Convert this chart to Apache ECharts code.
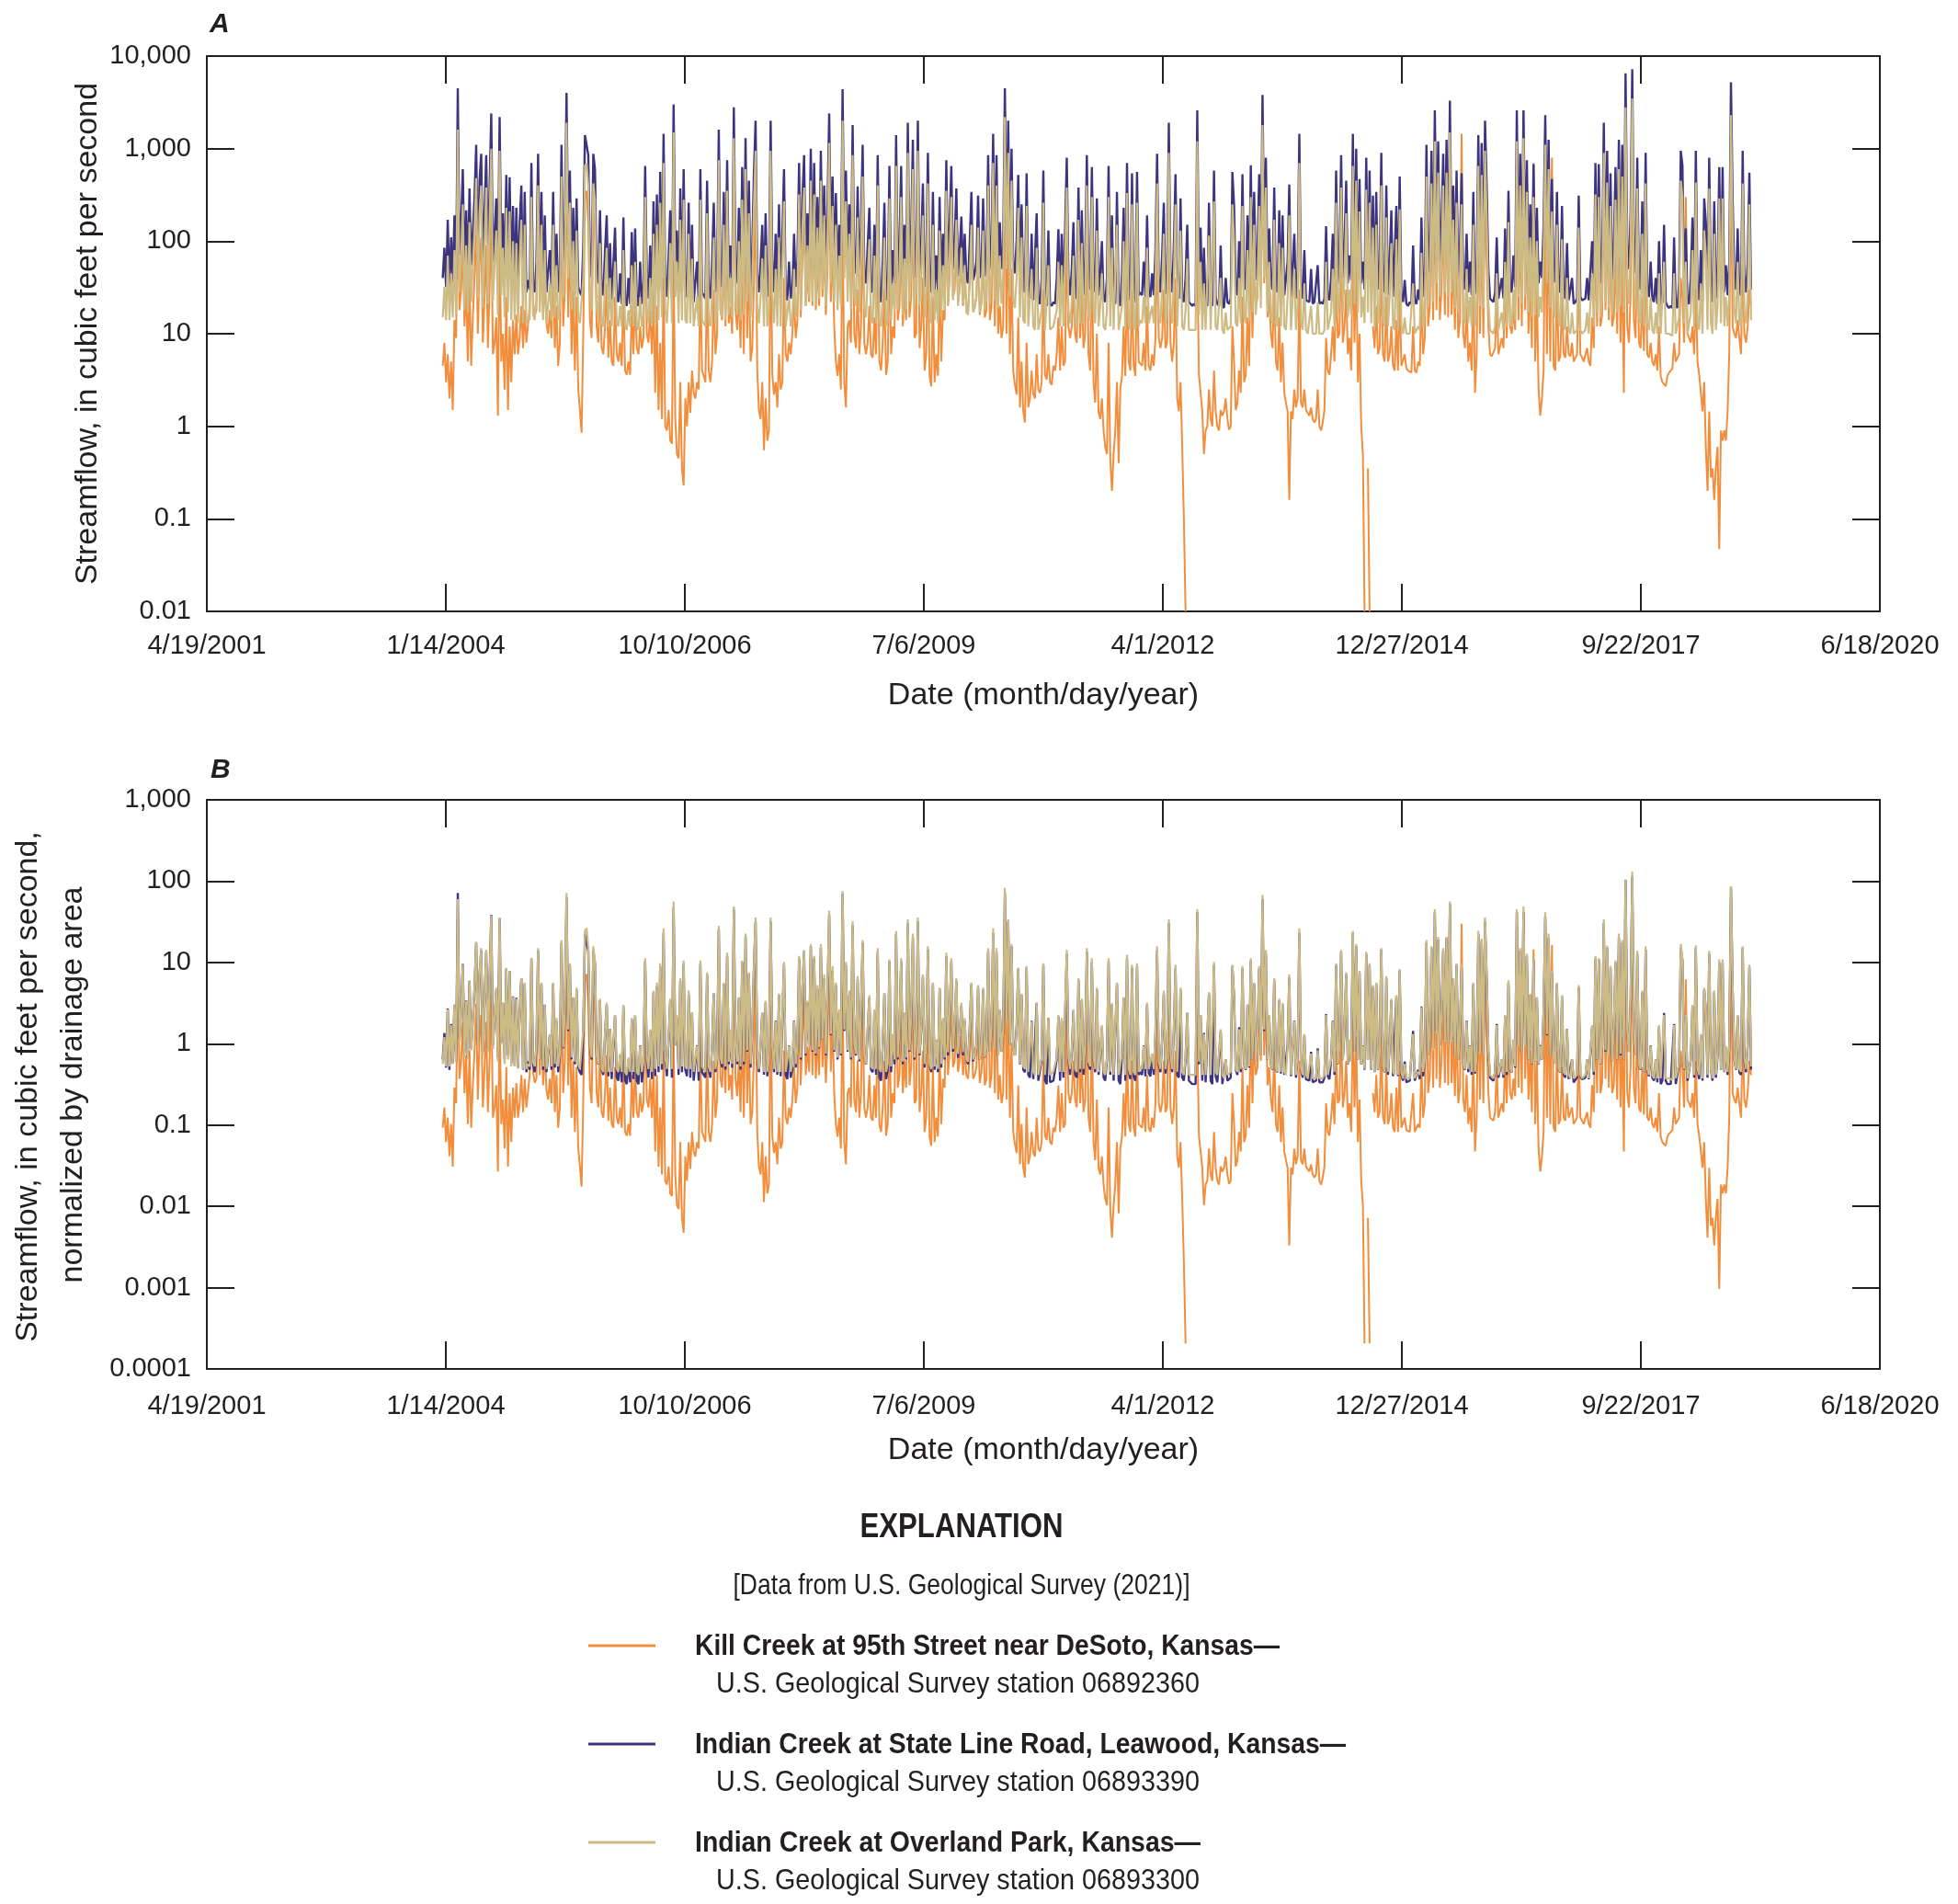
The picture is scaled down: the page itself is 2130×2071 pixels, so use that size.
<!DOCTYPE html>
<html><head><meta charset="utf-8">
<script src="https://cdn.jsdelivr.net/npm/echarts@6/dist/echarts.min.js"></script>
<style>html,body{margin:0;padding:0;background:#fff}#c{width:2130px;height:2071px}</style>
</head><body><div id="c"></div><script>
// ---- Data: weekly readings (every 7 days) starting 1/1/2004 (Excel serial 37987), cubic feet per second ----
const START_SERIAL = 37987;
const STEP_DAYS = 7;
const X_MIN = 37000, X_MAX = 44000, X_STEP = 1000;
const xTickLabels = ['4/19/2001','1/14/2004','10/10/2006','7/6/2009','4/1/2012','12/27/2014','9/22/2017','6/18/2020'];
const yTickLabelsA = ['0.01','0.1','1','10','100','1,000','10,000'];
const yTickLabelsB = ['0.0001','0.001','0.01','0.1','1','10','100','1,000'];
// drainage areas, square miles
const AREA_KILL = 48.6, AREA_STATELINE = 62.7, AREA_OVERLAND = 26.6;

// Kill Creek at 95th Street near DeSoto (06892360); null = no flow
const killCreek = [
/*2004*/4.5,8,3,6,2,5,1.5,14,9,400,18,30,90,12,35,5,40,4.5,15,40,150,10,60,110,8,25,90,7,30,200,6,8,15,1.3,120,5,10,2.5,25,1.5,12,3,14,6,16,6,9,20,7,18,8,8,
/*2005*/20,200,22,16,18,250,20,90,15,40,13,10,18,9,60,7,20,4.5,8,250,12,30,900,15,120,6,30,4,25,2.5,1.5,0.85,10,300,350,150,14,9,200,120,12,8,40,7,6,12,35,5.5,14,5,4.5,25,
/*2006*/6,5,8,4.5,30,4,3.6,5,3.6,20,6,25,7,6,12,7,9,150,10,8,18,6,25,2.3,20,1.5,8,1.2,40,1.0,0.9,1.5,0.7,0.65,60,1.2,0.5,0.45,3,0.35,0.23,2,1.0,3,1.4,4,2.3,2.0,3,2.5,40,4,
/*2007*/3.5,3,40,4,3,5,30,6,10,400,18,14,60,12,150,13,20,10,700,18,11,30,7,80,6,250,9,60,5,7,35,400,4,1.5,1.2,3,0.55,2,0.7,0.9,150,3.6,2.2,3,1.6,6,2.5,3,40,6,5,8,6,
/*2008*/10,25,9,14,150,15,60,180,20,45,22,250,20,160,18,60,20,250,25,90,16,50,600,22,90,12,5,3.5,6,2.5,200,3,1.6,12,14,8,300,10,7,30,6,12,150,8,6,8,20,6,5.5,15,6,100,
/*2009*/5,4,8,30,3.6,5,80,6,12,9,250,14,20,120,12,30,14,400,15,25,250,9,10,1200,7,12,40,4,6,90,3.5,2.7,25,3,6,3.5,40,5,18,14,200,20,40,180,25,30,100,22,30,60,20,40,
/*2010*/20,18,35,90,18,20,25,80,16,22,60,15,18,500,14,20,250,12,150,10,20,9,12,700,10,200,6,50,4,2.8,2.2,15,1.6,5,1.45,1.1,8,1.6,2.0,4,2.2,2.0,6,2.5,2.3,3,30,3.6,3.2,6,3,2.8,
/*2011*/4.5,4,6,15,4,12,4.5,5,120,12,9,12,30,10,8,60,9,30,7,10,150,6,4,80,3,1.8,10,1.45,1.2,2,0.9,0.6,0.5,8,0.45,0.2,0.5,0.9,3,0.4,2.5,3.5,12,3.5,40,5,4,30,4.5,3.5,35,5,
/*2012*/5,4.5,8,4,20,4.5,4,6,4.5,9,100,9,7,9,30,7,8,250,8,5,8,40,2,1.45,3,0.6,0.1,0.01,null,null,null,null,null,null,60,3.6,2.3,1.45,0.5,0.9,1.0,2.5,1.2,1.0,4,1.45,1.0,0.9,1.5,1.3,1.45,2,
/*2013*/1.2,0.92,1.0,12,5,1.5,1.8,4,2.3,25,3,3.6,15,4.5,90,9,60,20,25,150,30,900,35,150,15,25,10,7,40,5,4,15,3,8,2.3,1.8,1.45,0.16,1.45,1.2,2.5,1.6,2,30,1.8,1.6,2.5,1.5,1.45,1.3,1.6,1.2,1.1,
/*2014*/1.2,2.5,1.0,0.9,1.1,1.5,9,4,3.6,6,12,5,40,9,10,90,8,12,30,6,9,4,100,8,60,3,10,1.0,0.5,0.01,null,0.35,0.01,null,12,7,20,6,7,60,6,5,25,5,6,12,4.5,4,14,4,30,4.5,
/*2015*/4.5,6,4.2,4,4,3.8,12,4,3.8,5,4.5,25,6,9,250,12,20,200,14,600,18,700,14,30,180,16,300,15,700,16,60,11,90,9,14,1450,10,7,20,5,8,4,40,2.3,6,200,10,150,9,400,60,12,
/*2016*/6,5.7,5.5,7,25,6,6,9,7,30,9,80,12,10,18,11,600,14,150,12,2000,18,120,10,40,7,700,5,30,2.5,1.3,2,4,400,6,200,5,800,4.5,4,40,5,5.7,25,6,5.5,12,6,5.7,8,5,5,
/*2017*/6,40,6,5.5,5,5,7,5,4.5,15,7,120,12,500,12,16,600,18,200,14,90,12,15,80,10,200,8,60,2.3,900,12,8,25,1200,14,9,100,8,7,25,6.5,80,6,5.5,8,5,4.5,6,4,12,3.5,3,
/*2018*/3,2.7,3.5,3.8,4,4.2,8,5,5,6,40,25,8,300,10,9,8,12,6,30,5,3.6,2.3,1.45,3,0.58,0.2,1.45,0.28,0.35,0.16,0.37,0.6,0.047,0.9,0.7,0.9,0.7,1.45,6.5,900,12,10,9,14,9,6,60,10,8,12,30,20
];

// Indian Creek at State Line Road, Leawood (06893390)
const indianStateLine = [
/*2004*/40,85,32,170,30,110,36,190,38,4500,70,160,600,48,215,42,370,55,125,300,1100,60,450,880,50,215,850,55,370,2400,60,125,290,42,2200,65,200,40,520,45,490,36,240,34,230,32,160,400,30,340,28,38,
/*2005*/30,700,35,28,60,880,40,340,30,190,28,27,80,30,340,32,120,28,45,1100,55,150,4000,90,580,40,230,35,290,32,28,26,90,1400,1450,850,60,40,880,600,45,35,215,30,26,80,190,25,95,23,22,140,
/*2006*/24,22,45,21,180,22,20,40,21,125,23,137,22,20,60,21,35,650,40,24,90,23,270,25,320,28,560,30,1450,40,25,70,215,24,3000,60,130,26,370,28,600,30,25,260,24,150,22,23,60,22,600,28,
/*2007*/26,24,450,30,24,60,260,28,45,1600,40,32,340,30,750,35,90,32,2800,60,35,230,30,630,35,1300,50,450,32,80,540,2000,45,28,60,150,26,200,25,40,2000,60,28,120,26,250,25,24,600,26,23,60,24,
/*2008*/30,120,32,60,700,40,300,850,45,200,60,1000,50,700,45,300,55,950,70,400,45,250,2400,80,500,50,330,40,150,45,4400,90,580,50,250,40,1800,60,45,390,38,150,1100,45,35,90,230,30,28,150,26,850,
/*2009*/24,22,60,260,23,30,650,28,80,35,1400,40,90,650,35,150,40,1900,50,120,1250,40,70,2000,45,90,420,32,60,900,35,28,340,30,70,28,300,32,120,40,750,45,150,650,50,100,370,42,80,185,45,120,
/*2010*/40,35,100,340,38,45,60,310,40,50,290,42,60,850,50,90,1450,55,850,45,160,50,90,4500,120,2000,60,1000,55,45,100,520,35,250,30,28,540,26,24,120,23,22,200,22,21,40,580,22,20,130,21,20,
/*2011*/22,21,40,135,22,120,24,23,800,40,26,50,160,26,24,380,28,215,26,60,850,35,30,630,40,28,290,26,45,100,24,22,40,650,26,190,22,21,340,22,20,45,230,22,700,28,23,540,25,22,560,26,
/*2012*/28,26,60,25,190,27,25,45,26,80,880,35,28,70,260,27,40,1900,45,28,90,530,26,24,290,24,22,40,150,22,21,20,21,20,2600,35,140,22,85,21,20,260,22,20,580,25,21,20,90,20,19,40,
/*2013*/22,21,24,560,240,30,26,100,28,530,35,30,190,32,660,40,340,38,80,530,45,3800,90,800,40,137,35,30,380,30,28,215,27,190,26,25,60,410,25,24,120,24,45,1450,30,24,80,23,22,22,50,21,22,
/*2014*/22,55,21,22,21,24,145,25,23,40,120,26,580,35,60,850,40,90,450,35,70,38,1450,50,1000,40,470,35,60,30,800,40,580,30,310,28,340,30,45,900,32,28,400,26,60,215,25,24,240,25,500,26,
/*2015*/22,38,21,20,22,21,90,22,21,30,23,180,25,40,1100,45,100,950,55,2600,90,1200,60,150,880,70,1250,60,3300,70,400,45,580,40,90,540,35,30,120,28,60,26,340,27,40,1400,50,1150,45,2000,400,50,
/*2016*/24,23,22,28,110,24,23,40,24,137,26,350,30,28,70,32,2600,60,880,50,2600,60,750,40,250,35,680,38,230,35,60,40,150,2300,80,1250,45,470,40,36,340,30,28,240,26,24,95,23,22,40,21,22,
/*2017*/24,310,25,23,22,24,40,23,22,100,26,700,40,680,35,60,1900,50,950,45,540,38,90,630,40,1250,45,1100,40,6500,90,50,200,7200,80,45,800,35,30,270,28,900,30,25,60,24,22,40,21,100,20,22,
/*2018*/150,22,20,19,20,19,110,20,19,35,950,660,30,137,22,21,40,180,24,950,30,23,80,22,290,160,24,800,30,22,270,24,45,630,30,630,28,55,26,60,5200,290,40,30,137,28,26,950,40,28,60,550,30
];

// Indian Creek at Overland Park (06893300)
const indianOverland = [
/*2004*/15,32,14,70,14,45,15,80,16,1600,28,65,250,18,90,17,160,22,55,130,480,24,200,400,19,90,380,21,160,1000,23,55,130,16,950,26,85,15,230,17,210,14,100,14,95,13,65,170,13,150,13,15,
/*2005*/14,300,16,14,25,400,17,150,14,80,13,13,35,14,150,15,55,14,20,500,24,65,1900,40,260,18,100,16,130,15,13,13,40,650,700,400,26,18,420,280,19,15,95,13,12,35,85,12,40,12,12,60,
/*2006*/13,12,20,12,80,12,11,18,12,55,12,60,12,11,25,12,16,300,18,13,40,12,120,13,150,14,260,15,700,18,13,30,95,13,1500,25,60,13,170,14,280,14,13,120,13,65,12,12,25,12,280,14,
/*2007*/13,12,200,14,12,25,110,13,18,750,18,15,150,14,350,16,40,15,1300,25,16,100,14,280,16,600,22,200,15,35,240,950,20,13,25,65,12,90,12,17,950,25,13,50,12,110,12,12,270,12,12,25,12,
/*2008*/15,50,15,25,320,18,140,380,20,90,25,450,22,320,20,140,24,450,30,190,20,115,1150,35,240,22,150,18,70,20,2000,40,270,22,120,18,850,26,20,180,17,70,500,19,15,40,105,14,13,70,13,400,
/*2009*/13,12,25,110,12,15,290,14,35,17,650,18,40,300,16,65,18,900,22,55,600,18,30,950,20,40,190,15,25,420,15,13,150,14,30,13,130,15,55,18,350,21,70,300,23,45,170,20,35,85,21,55,
/*2010*/17,16,40,150,17,19,25,140,17,21,130,18,25,400,21,40,700,23,400,19,70,21,40,2200,50,900,25,450,23,19,40,230,15,110,14,13,240,12,12,50,12,11,85,11,11,18,260,11,11,55,11,11,
/*2011*/12,12,18,60,12,55,12,12,380,18,13,22,70,13,12,170,13,95,13,25,400,16,14,300,18,13,130,12,20,45,12,11,18,300,12,85,11,11,150,11,11,20,100,11,330,13,11,250,12,11,260,12,
/*2012*/14,13,25,13,85,13,13,20,13,35,420,16,13,30,120,13,18,900,20,13,40,250,12,12,130,12,11,18,65,11,11,11,11,11,1200,16,60,11,35,11,11,115,11,11,270,12,11,11,40,11,10,17,
/*2013*/11,11,12,250,100,13,12,40,13,240,15,13,80,14,300,17,150,16,32,240,19,1800,40,380,17,60,15,13,170,13,12,95,12,85,12,11,25,190,11,11,50,11,20,700,13,11,35,11,10,10,20,10,10,
/*2014*/10,22,10,10,10,11,60,11,11,17,50,12,260,15,25,380,17,40,200,15,30,16,650,21,450,17,210,15,25,13,360,17,260,13,140,12,150,13,19,400,14,12,180,12,25,95,12,11,105,11,220,12,
/*2015*/10,15,10,10,10,10,35,10,10,12,11,75,12,17,500,19,40,420,22,1200,35,550,25,60,400,28,550,25,1500,28,170,19,260,17,40,250,15,13,50,13,25,12,150,12,17,650,20,520,19,950,180,22,
/*2016*/11,11,10,12,45,11,11,17,11,60,12,160,13,12,30,14,1200,25,400,21,1300,25,340,17,110,15,300,16,100,15,25,17,65,1100,35,600,19,210,17,15,150,13,12,105,12,11,40,11,10,17,10,10,
/*2017*/11,140,11,10,10,11,17,10,10,45,12,320,17,300,15,25,900,22,430,19,240,16,40,280,17,600,20,500,17,2800,40,21,90,3500,35,19,370,15,13,120,12,420,13,11,25,11,10,17,10,45,10,10,
/*2018*/60,10,10,10,10,9.5,45,10,10,15,450,300,13,60,10,10,17,80,11,430,13,11,35,10,130,70,11,370,13,10,120,11,20,290,13,290,12,25,12,26,2300,130,18,13,60,13,12,420,18,13,27,250,14
];

const stationNames = [
  'Kill Creek at 95th Street near DeSoto, Kansas\u2014',
  'Indian Creek at State Line Road, Leawood, Kansas\u2014',
  'Indian Creek at Overland Park, Kansas\u2014'
];
const stationIds = [
  'U.S. Geological Survey station 06892360',
  'U.S. Geological Survey station 06893390',
  'U.S. Geological Survey station 06893300'
];
const COLORS = ['#F18D3B', '#3D3480', '#CDBB85'];

// ---- fonts ----
const mctx = document.createElement('canvas').getContext('2d');
function measure(font, text){ mctx.font = font; return mctx.measureText(text).width; }
const REG = '"Liberation Sans", Arial, sans-serif';
const TXT = '#231f20';
const tickFont = 29;

function toPairs(arr, div){ return arr.map(function(v,i){ return [START_SERIAL + STEP_DAYS*i, v == null ? '-' : v/div]; }); }

const axisLine = {show:true, onZero:false, lineStyle:{color:TXT, width:2}};
const axisTick = {show:true, inside:true, length:30, lineStyle:{color:TXT, width:2}};

function xAxes(grid, margin){
  const base = {type:'value', gridIndex:grid, min:X_MIN, max:X_MAX, interval:X_STEP, axisLine:axisLine, axisTick:axisTick, splitLine:{show:false}};
  return [
    Object.assign({}, base, {position:'bottom', axisLabel:{show:true, margin:margin, color:TXT, fontFamily:REG, fontSize:tickFont,
      formatter:function(v){ return xTickLabels[Math.round((v - X_MIN)/X_STEP)]; }}}),
    Object.assign({}, base, {position:'top', axisLabel:{show:false}})
  ];
}
function yAxes(grid, min, max, labels, minExp){
  const base = {type:'log', logBase:10, gridIndex:grid, min:min, max:max, splitNumber:labels.length-1, axisLine:axisLine, axisTick:axisTick, splitLine:{show:false}, minorTick:{show:false}};
  return [
    Object.assign({}, base, {position:'left', axisLabel:{show:true, margin:17, color:TXT, fontFamily:REG, fontSize:tickFont,
      formatter:function(v){ return labels[Math.round(Math.log10(v)) - minExp]; }}}),
    Object.assign({}, base, {position:'right', axisLabel:{show:false}})
  ];
}

const xa = xAxes(0, 23).concat(xAxes(1, 26));
const yA = yAxes(0, 0.01, 10000, yTickLabelsA, -2);
const yB = yAxes(1, 0.0001, 1000, yTickLabelsB, -4);
const ya = [yA[0], yB[0], yA[1], yB[1]];

function lineSeries(data, color, xi, yi, w){
  return {type:'line', xAxisIndex:xi, yAxisIndex:yi, data:data, showSymbol:false, symbol:'none',
    lineStyle:{color:color, width:w}, itemStyle:{color:color}, connectNulls:false, clip:true, silent:true};
}
const series = [
  lineSeries(toPairs(killCreek,1), COLORS[0], 0, 0, 2),
  lineSeries(toPairs(indianStateLine,1), COLORS[1], 0, 0, 2.4),
  lineSeries(toPairs(indianOverland,1), COLORS[2], 0, 0, 2.2),
  lineSeries(toPairs(killCreek,AREA_KILL), COLORS[0], 2, 1, 2),
  lineSeries(toPairs(indianStateLine,AREA_STATELINE), COLORS[1], 2, 1, 2.4),
  lineSeries(toPairs(indianOverland,AREA_OVERLAND), COLORS[2], 2, 1, 2.2)
];

function txt(x, y, text, font, align, rot){
  const o = {type:'text', x:x, y:y, silent:true, style:{text:text, font:font, fill:TXT, align:align||'center', verticalAlign:'middle'}};
  if (rot) o.rotation = rot;
  return o;
}
// condensed look: regular face squeezed horizontally to the reference width
function ctxt(x, y, text, font, align, targetW){
  const o = txt(x, y, text, font, align);
  const w = measure(font, text);
  o.scaleX = Math.min(1, targetW / w);
  return o;
}
const fB = 'bold 32px ' + REG, fR = '32px ' + REG;
const graphic = [
  txt(228, 27, 'A', 'italic bold 30px ' + REG, 'left'),
  txt(229, 838, 'B', 'italic bold 30px ' + REG, 'left'),
  txt(96, 363, 'Streamflow, in cubic feet per second', '34px ' + REG, 'center', Math.PI/2),
  txt(1135, 757, 'Date (month/day/year)', '34px ' + REG, 'center'),
  txt(31, 1182, 'Streamflow, in cubic feet per second,', '34px ' + REG, 'center', Math.PI/2),
  txt(80, 1180, 'normalized by drainage area', '34px ' + REG, 'center', Math.PI/2),
  txt(1135, 1578, 'Date (month/day/year)', '34px ' + REG, 'center'),
  ctxt(1046, 1662, 'EXPLANATION', 'bold 37px ' + REG, 'center', 221),
  ctxt(1046, 1725, '[Data from U.S. Geological Survey (2021)]', fR, 'center', 497)
];
const legY = [1790, 1897, 2004];
const nameW = [636, 708, 550];
for (let i = 0; i < 3; i++) {
  graphic.push({type:'line', silent:true, shape:{x1:640, y1:legY[i], x2:713, y2:legY[i]}, style:{stroke:COLORS[i], lineWidth:3}});
  graphic.push(ctxt(756, legY[i] + 1, stationNames[i], fB, 'left', nameW[i]));
  graphic.push(ctxt(779, legY[i] + 42, stationIds[i], fR, 'left', 526));
}

const chart = echarts.init(document.getElementById('c'), null, {renderer:'canvas', width:2130, height:2071});
chart.setOption({
  animation:false,
  backgroundColor:'#ffffff',
  grid:[{left:225, top:61, width:1820, height:604}, {left:225, top:870, width:1820, height:619}],
  xAxis: xa,
  yAxis: ya,
  series: series,
  graphic: graphic
});
</script></body></html>
